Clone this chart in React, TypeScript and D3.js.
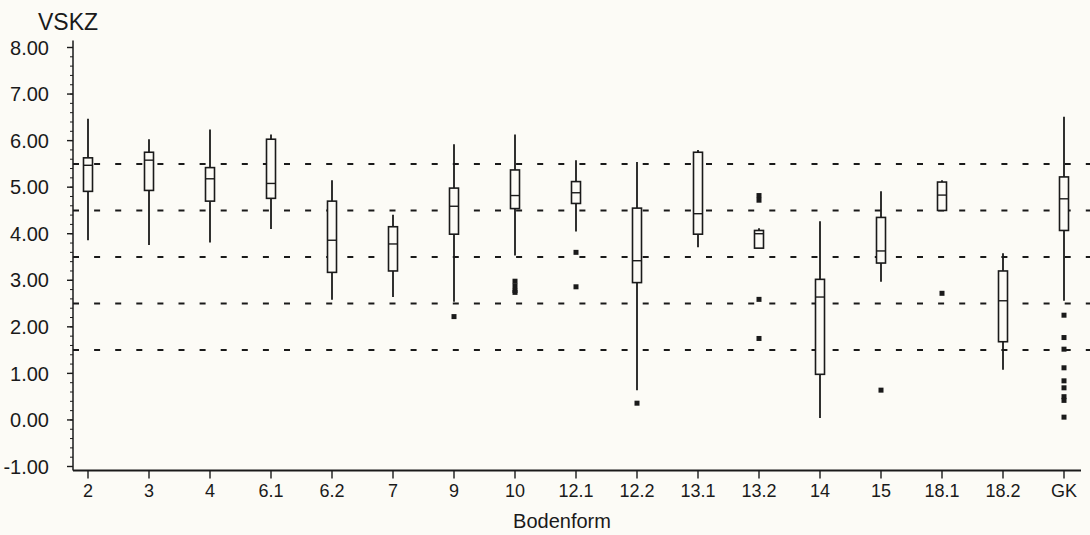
import React from "react";
import * as d3 from "d3";

const categories = ["2", "3", "4", "6.1", "6.2", "7", "9", "10", "12.1", "12.2", "13.1", "13.2", "14", "15", "18.1", "18.2", "GK"];
const whiskerHigh = [6.47, 6.03, 6.24, 6.13, 5.15, 4.41, 5.92, 6.13, 5.58, 5.54, 5.8, 4.12, 4.27, 4.91, 5.15, 3.58, 6.51];
const q3 = [5.63, 5.75, 5.42, 6.03, 4.7, 4.15, 4.98, 5.37, 5.12, 4.55, 5.75, 4.07, 3.02, 4.35, 5.11, 3.2, 5.22];
const median = [5.47, 5.58, 5.18, 5.08, 3.86, 3.78, 4.59, 4.82, 4.88, 3.42, 4.43, 4.0, 2.64, 3.63, 4.83, 2.56, 4.75];
const q1 = [4.91, 4.93, 4.7, 4.76, 3.17, 3.2, 3.99, 4.54, 4.65, 2.95, 3.99, 3.69, 0.98, 3.37, 4.5, 1.68, 4.07];
const whiskerLow = [3.86, 3.76, 3.81, 4.1, 2.58, 2.64, 2.54, 3.53, 4.05, 0.64, 3.71, 3.69, 0.04, 2.97, 4.5, 1.08, 2.56];
const outliers: number[][] = [
  [], [], [], [], [], [],
  [2.22],
  [2.98, 2.88, 2.78, 2.74],
  [3.6, 2.86],
  [0.36],
  [],
  [4.82, 4.72, 2.59, 1.75],
  [],
  [0.64],
  [2.72],
  [],
  [2.25, 1.77, 1.52, 1.12, 0.84, 0.69, 0.5, 0.42, 0.06],
];
const yTicks = [-1, 0, 1, 2, 3, 4, 5, 6, 7, 8];
const refLines = [5.5, 4.5, 3.5, 2.5, 1.5];

const W = 1090;
const H = 535;
const ink = "#1a1a1a";
const paper = "#fcfbf6";
const font = "'Liberation Sans', Arial, Helvetica, sans-serif";
const narrow = "'Liberation Sans Narrow', 'Arial Narrow', Arial, sans-serif";

export default function App() {
  const y = d3.scaleLinear().domain([-1, 8]).range([466.5, 47.5]);
  const x = d3.scalePoint<string>().domain(categories).range([88, 1064]);
  const axisX = 73;
  const axisY = 470.5;
  const boxW = 9;
  const minor = d3.range(-1, 8.001, 0.2);

  return (
    <svg
      width={W}
      height={H}
      style={{ position: "absolute", left: 0, top: 0, background: paper }}
    >
      {/* reference lines */}
      {refLines.map((v) => (
        <line
          key={v}
          x1={axisX}
          x2={W}
          y1={y(v)}
          y2={y(v)}
          stroke={ink}
          strokeWidth={2}
          strokeDasharray="6,15.1"
        />
      ))}

      {/* y axis */}
      <line x1={axisX} x2={axisX} y1={y(8.15)} y2={axisY} stroke={ink} strokeWidth={1.5} />
      {minor.map((v, i) => (
        <line key={i} x1={axisX - 3} x2={axisX} y1={y(v)} y2={y(v)} stroke={ink} strokeWidth={1} />
      ))}
      {yTicks.map((v) => (
        <g key={v}>
          <line x1={axisX - 6} x2={axisX} y1={y(v)} y2={y(v)} stroke={ink} strokeWidth={1.4} />
          <text
            x={49}
            y={y(v)}
            dy="0.36em"
            textAnchor="end"
            fontFamily={font}
            fontSize={20}
            fill={ink}
          >
            {v.toFixed(2)}
          </text>
        </g>
      ))}
      <text x={38} y={30} fontFamily={font} fontSize={23} fill={ink}>
        VSKZ
      </text>

      {/* x axis */}
      <line x1={axisX} x2={1081} y1={axisY} y2={axisY} stroke={ink} strokeWidth={1.8} />
      {categories.map((c) => (
        <g key={c}>
          <line x1={x(c)} x2={x(c)} y1={axisY} y2={axisY + 8} stroke={ink} strokeWidth={1.4} />
          <text
            x={x(c)}
            y={497}
            textAnchor="middle"
            fontFamily={narrow}
            fontSize={18}
            fill={ink}
          >
            {c}
          </text>
        </g>
      ))}
      <text x={562} y={528} textAnchor="middle" fontFamily={font} fontSize={20} fill={ink}>
        Bodenform
      </text>

      {/* boxes */}
      {categories.map((c, i) => {
        const cx = x(c) as number;
        return (
          <g key={c}>
            <line x1={cx} x2={cx} y1={y(whiskerHigh[i])} y2={y(q3[i])} stroke={ink} strokeWidth={1.8} />
            <line x1={cx} x2={cx} y1={y(q1[i])} y2={y(whiskerLow[i])} stroke={ink} strokeWidth={1.8} />
            <rect
              x={cx - boxW / 2}
              y={y(q3[i])}
              width={boxW}
              height={Math.max(y(q1[i]) - y(q3[i]), 1)}
              fill={paper}
              stroke={ink}
              strokeWidth={1.6}
            />
            <line
              x1={cx - boxW / 2}
              x2={cx + boxW / 2}
              y1={y(median[i])}
              y2={y(median[i])}
              stroke={ink}
              strokeWidth={1.4}
            />
            {outliers[i].map((v, j) => (
              <rect key={j} x={cx - 2.5} y={y(v) - 2.5} width={5} height={5} fill={ink} />
            ))}
          </g>
        );
      })}
    </svg>
  );
}
